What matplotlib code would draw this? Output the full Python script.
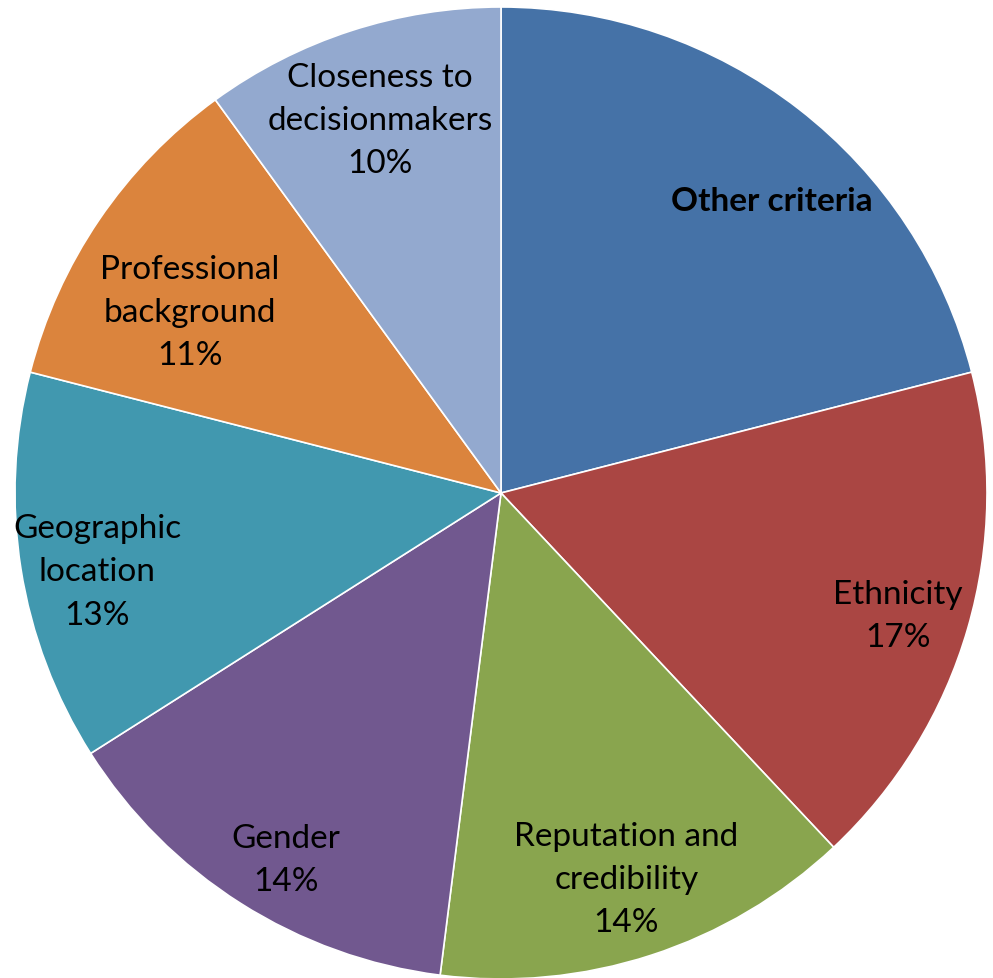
import numpy as np
import matplotlib
matplotlib.use("Agg")
import matplotlib.pyplot as plt

# Data
categories = ["Other criteria", "Ethnicity", "Reputation and\ncredibility", "Gender",
              "Geographic\nlocation", "Professional\nbackground", "Closeness to\ndecisionmakers"]
shares = [21, 17, 14, 14, 13, 11, 10]
show_pct = [False, True, True, True, True, True, True]

colors = ["#4572A7", "#AA4643", "#89A54E", "#71588F", "#4198AF", "#DB843D", "#93A9CF"]
# label placement: radius (fraction of pie radius) and angular nudge in degrees
label_radius = [0.82, 0.855, 0.835, 0.875, 0.846, 0.74, 0.807]
label_nudge = [-5, -1, 0, 2, 2, 4, 0]

plt.rcParams['font.family'] = ['Lato', 'DejaVu Sans']

fig = plt.figure(figsize=(9.93, 9.79), dpi=100)
ax = fig.add_axes([0, 0, 1, 1])

wedges, _ = ax.pie(shares, colors=colors, startangle=90, counterclock=False,
                   radius=1.0, wedgeprops=dict(edgecolor="white", linewidth=1.2))

for w, name, val, pct, r, nd in zip(wedges, categories, shares, show_pct,
                                    label_radius, label_nudge):
    mid = np.deg2rad((w.theta1 + w.theta2) / 2 + nd)
    x, y = r * np.cos(mid), r * np.sin(mid)
    if pct:
        ax.text(x, y, f"{name}\n{val}%", ha="center", va="center",
                fontsize=24, linespacing=1.55)
    else:
        ax.text(x, y, name, ha="center", va="center", fontsize=24, fontweight="bold")

ax.set_xlim(-501 / 486, 492 / 486)
ax.set_ylim(-485 / 486, 494 / 486)
ax.set_aspect("auto")
ax.axis("off")

fig.savefig("out.png", dpi=100)
